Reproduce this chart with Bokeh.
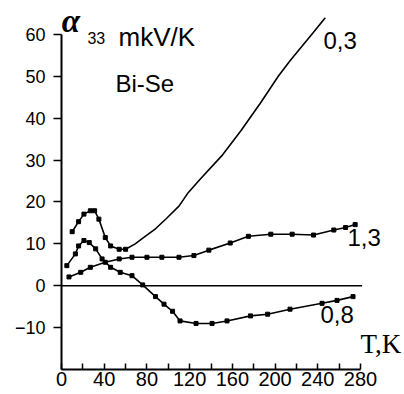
from bokeh.plotting import figure
from bokeh.models import FixedTicker, Label, Range1d
from bokeh.embed import file_html
from bokeh.resources import INLINE

# Curve "0,3"
T_03 = [10, 16, 21, 27, 31, 35, 41, 46, 54, 60, 69, 79, 88, 98, 110, 118, 130,
        150, 168, 186, 203, 214, 236, 247]
A_03 = [12.9, 15.3, 17.1, 17.9, 17.9, 15.9, 11.5, 9.5, 8.7, 8.7, 10.0, 11.9,
        13.6, 16.0, 19.0, 22.0, 25.5, 31.0, 37.0, 43.5, 50.0, 53.7, 60.5, 64.0]
N_MARK_03 = 10

# Curve "0,8"
T_08 = [5, 13, 16, 21, 26, 32, 38, 46, 55, 66, 76, 88, 96, 104, 111, 126, 141,
        155, 177, 193, 214, 244, 258, 273]
A_08 = [4.8, 7.6, 9.5, 10.8, 10.3, 8.8, 6.4, 4.4, 3.2, 2.4, 0.2, -2.6, -4.4,
        -6.1, -8.4, -9.0, -9.0, -8.4, -7.2, -6.8, -5.6, -4.2, -3.5, -2.6]

# Curve "1,3"
T_13 = [7, 18, 27, 41, 54, 66, 80, 94, 110, 124, 138, 158, 175, 196, 216, 236,
        255, 266, 275]
A_13 = [2.1, 3.2, 4.4, 5.6, 6.4, 6.8, 6.8, 6.8, 6.8, 7.2, 8.5, 10.2, 11.8,
        12.3, 12.3, 12.1, 13.3, 13.9, 14.6]

X_TICKS = [0, 40, 80, 120, 160, 200, 240, 280]
X_MINOR = [20, 60, 100, 140, 180, 220, 260]
Y_TICKS = [-10, 0, 10, 20, 30, 40, 50, 60]
X_BOUNDS = (0, 280)
Y_BOUNDS = (-20, 60)

FONT = "Liberation Sans"

p = figure(width=404, height=394, output_backend="svg", toolbar_location=None,
           x_range=Range1d(0, 321.2), y_range=Range1d(-20, 68.1),
           min_border_left=61, min_border_right=0, min_border_top=0,
           min_border_bottom=25)
p.grid.visible = False
p.outline_line_color = None
p.background_fill_color = "white"
p.border_fill_color = "white"

# axes
xa = p.xaxis[0]
xa.ticker = FixedTicker(ticks=X_TICKS, minor_ticks=X_MINOR)
xa.bounds = X_BOUNDS
xa.axis_line_width = 2
xa.axis_line_color = "black"
xa.major_tick_in = 6
xa.major_tick_out = 0
xa.minor_tick_in = 6
xa.minor_tick_out = 0
xa.major_tick_line_width = 1.5
xa.minor_tick_line_width = 1.5
xa.major_label_text_font = FONT
xa.major_label_text_font_size = "20px"
xa.major_label_text_color = "black"
xa.major_label_standoff = 2

ya = p.yaxis[0]
ya.ticker = FixedTicker(ticks=Y_TICKS, minor_ticks=[])
ya.bounds = Y_BOUNDS
ya.axis_line_width = 2
ya.axis_line_color = "black"
ya.major_tick_in = 0
ya.major_tick_out = 8
ya.major_tick_line_width = 1.5
ya.minor_tick_line_color = None
ya.major_label_text_font = FONT
ya.major_label_text_font_size = "18px"
ya.major_label_text_color = "black"
ya.major_label_standoff = 8

# zero line
p.segment(x0=[X_BOUNDS[0]], x1=[X_BOUNDS[1] + 1.5], y0=[0], y1=[0],
          line_color="black", line_width=1.5)

# curves
p.line(T_03, A_03, line_color="black", line_width=1.6)
p.scatter(T_03[:N_MARK_03], A_03[:N_MARK_03], marker="square", size=4, color="black")
p.line(T_08, A_08, line_color="black", line_width=1.6)
p.scatter(T_08, A_08, marker="square", size=4, color="black")
p.line(T_13, A_13, line_color="black", line_width=1.6)
p.scatter(T_13, A_13, marker="square", size=4, color="black")

def lab(x, y, text, size, font=FONT, style="normal"):
    p.add_layout(Label(x=x, y=y, text=text, text_font=font, text_font_size=size,
                       text_font_style=style, text_color="black",
                       text_align="left", text_baseline="alphabetic"))

lab(0.2, 63.3, "α", "33px", font="Liberation Serif", style="bold italic")
lab(24.3, 59.1, "33", "16px")
lab(53.4, 59.4, "mkV/K", "26px")
lab(50.6, 48.2, "Bi-Se", "24px")
lab(245.3, 58.5, "0,3", "24px")
lab(267.8, 11.6, "1,3", "24px")
lab(242.5, -6.8, "0,8", "24px")
lab(280, -13.8, "T,K", "27px", font="Liberation Serif")

open("out.html", "w").write(file_html(p, INLINE))
